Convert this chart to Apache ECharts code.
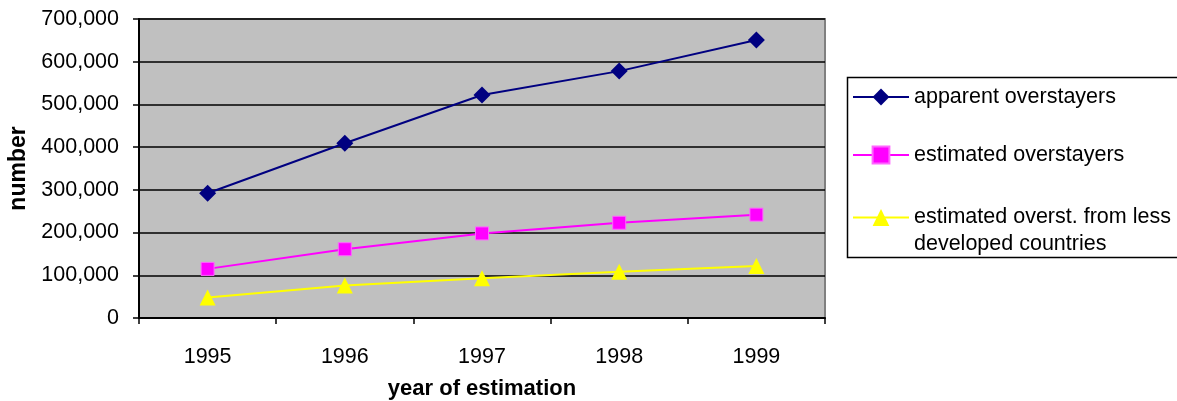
<!DOCTYPE html>
<html>
<head>
<meta charset="utf-8">
<script src="https://cdn.jsdelivr.net/npm/echarts@6/dist/echarts.min.js"></script>
<style>
  html, body { margin: 0; padding: 0; background: #fff; }
  #chart { width: 1177px; height: 401px; }
</style>
</head>
<body>
<div id="chart"></div>
<script>
var years = ['1995', '1996', '1997', '1998', '1999'];
var seriesNames = [
  'apparent overstayers',
  'estimated overstayers',
  'estimated overst. from less developed countries'
];
var apparent = [292000, 409000, 522000, 578000, 651000];
var estimated = [115000, 161000, 198000, 223000, 242000];
var lessDeveloped = [48000, 76000, 93000, 108000, 122000];

var FONT = '"Liberation Sans", Arial, sans-serif';

function fmtNum(v) {
  return String(v).replace(/\B(?=(\d{3})+(?!\d))/g, ',');
}

var chart = echarts.init(document.getElementById('chart'), null, { renderer: 'canvas' });

// one legend per series so each row can sit where the original puts it
function oneLegend(name, top, fmt, lh) {
  return {
    data: [name],
    left: 852,
    top: top,
    padding: 0,
    itemWidth: 56,
    itemHeight: 21,
    selectedMode: false,
    formatter: fmt,
    textStyle: { fontFamily: FONT, fontSize: 21.5, color: '#000', lineHeight: lh }
  };
}

var option = {
  backgroundColor: '#fff',
  animation: false,
  grid: {
    left: 139, right: 352, top: 19, bottom: 83,
    outerBoundsMode: 'none',
    containLabel: false,
    show: true,
    backgroundColor: '#c0c0c0',
    borderColor: '#808080',
    borderWidth: 2
  },
  legend: [
    oneLegend(seriesNames[0], 85, null, 24),
    oneLegend(seriesNames[1], 143, null, 24),
    oneLegend(seriesNames[2], 177, function () {
      return '\nestimated overst. from less\ndeveloped countries';
    }, 27)
  ],
  graphic: [{
    type: 'rect',
    left: 845, top: 75,
    shape: { width: 345, height: 180 },
    style: { fill: 'none', stroke: '#000', lineWidth: 1.5 },
    z: 0
  }],
  xAxis: {
    type: 'category',
    data: years,
    boundaryGap: true,
    name: 'year of estimation',
    nameLocation: 'middle',
    nameGap: 60,
    nameTextStyle: { fontFamily: FONT, fontSize: 22, fontWeight: 'bold', color: '#000' },
    axisLine: { lineStyle: { color: '#000', width: 2 } },
    axisTick: { show: true, length: 6, alignWithLabel: false, lineStyle: { color: '#000', width: 1.5 } },
    axisLabel: { fontFamily: FONT, fontSize: 21.5, color: '#000', margin: 28 },
    splitLine: { show: false }
  },
  yAxis: {
    type: 'value',
    min: 0, max: 700000, interval: 100000,
    name: 'number',
    nameLocation: 'middle',
    nameGap: 108,
    nameTextStyle: { fontFamily: FONT, fontSize: 23, fontWeight: 'bold', color: '#000' },
    axisLine: { show: true, lineStyle: { color: '#000', width: 2 } },
    axisTick: { show: true, length: 6, lineStyle: { color: '#000', width: 1.5 } },
    axisLabel: { fontFamily: FONT, fontSize: 21.5, color: '#000', margin: 20, formatter: fmtNum },
    splitLine: { show: true, lineStyle: { color: '#000', width: 1.5 } }
  },
  series: [
    {
      name: seriesNames[0], type: 'line', data: apparent,
      symbol: 'diamond', symbolSize: 17,
      lineStyle: { color: '#000080', width: 2 },
      itemStyle: { color: '#000080' }
    },
    {
      name: seriesNames[1], type: 'line', data: estimated,
      symbol: 'rect', symbolSize: 13,
      lineStyle: { color: '#ff00ff', width: 2 },
      itemStyle: { color: '#ff00ff', borderColor: '#ff66ff', borderWidth: 1 }
    },
    {
      name: seriesNames[2], type: 'line', data: lessDeveloped,
      symbol: 'triangle', symbolSize: 16,
      lineStyle: { color: '#ffff00', width: 2 },
      itemStyle: { color: '#ffff00' }
    }
  ]
};

chart.setOption(option);
</script>
</body>
</html>
